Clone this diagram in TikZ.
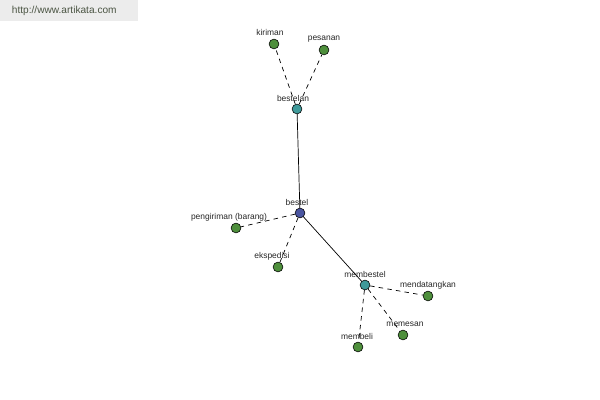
\documentclass[tikz,border=0pt]{standalone}
\usepackage{fontspec}
\setmainfont{Liberation Sans}
\usepackage{xcolor}
\definecolor{leafgreen}{HTML}{4E8F3C}
\definecolor{rootblue}{HTML}{4A55A0}
\definecolor{midteal}{HTML}{3F9A9A}
\definecolor{markgray}{HTML}{ECECEC}
\definecolor{marktext}{HTML}{4A5442}

\begin{document}
\begin{tikzpicture}[
    x=0.025cm, y=-0.025cm,
    dot/.style={
        circle,
        draw=black,
        line width=0.4pt,
        minimum size=7pt,
        inner sep=0pt
    },
    leaf/.style={dot, fill=leafgreen},
    lbl/.style={font=\fontsize{6}{7}\selectfont, inner sep=0.5pt, text=black!85},
    solidline/.style={draw, line width=0.5pt},
    dashline/.style={draw, line width=0.5pt, dash pattern=on 3.2pt off 3pt},
]
\useasboundingbox (0,0) rectangle (600,400);

% watermark
\fill[markgray] (0,0) rectangle (138,21);
\node[font=\fontsize{7.2}{9}\selectfont, text=marktext, anchor=west] (mark) at (7,11) {http://www.artikata.com};

% centre
\node[dot, fill=rootblue] (bestel) at (300,213) {};
\node[lbl] (bestelT) at (297,202) {bestel};

% upper branch
\node[dot, fill=midteal] (bestelan) at (297,109) {};
\node[lbl] (bestelanT) at (293,98) {bestelan};
\node[leaf] (kiriman) at (274,44) {};
\node[lbl] (kirimanT) at (270,32) {kiriman};
\node[leaf] (pesanan) at (324,50) {};
\node[lbl] (pesananT) at (324,39) {pesanan};

% left leaves
\node[leaf] (pengiriman) at (236,228) {};
\node[lbl] (pengirimanT) at (229,217) {pengiriman (barang)};
\node[leaf] (ekspedisi) at (278,267) {};
\node[lbl] (ekspedisiT) at (272,256) {ekspedisi};

% lower branch
\node[dot, fill=midteal] (membestel) at (365,285) {};
\node[lbl] (membestelT) at (365,274) {membestel};
\node[leaf] (mendatangkan) at (428,296) {};
\node[lbl] (mendatangkanT) at (428,285) {mendatangkan};
\node[leaf] (memesan) at (403,335) {};
\node[lbl] (memesanT) at (405,324) {memesan};
\node[leaf] (membeli) at (358,347) {};
\node[lbl] (membeliT) at (357,336) {membeli};

% Connections
\draw[solidline] (bestel) -- (bestelan);
\draw[solidline] (bestel) -- (membestel);

\draw[dashline] (bestelan) -- (kiriman);
\draw[dashline] (bestelan) -- (pesanan);

\draw[dashline] (bestel) -- (pengiriman);
\draw[dashline] (bestel) -- (ekspedisi);

\draw[dashline] (membestel) -- (mendatangkan);
\draw[dashline] (membestel) -- (memesan);
\draw[dashline] (membestel) -- (membeli);

\end{tikzpicture}
\end{document}
